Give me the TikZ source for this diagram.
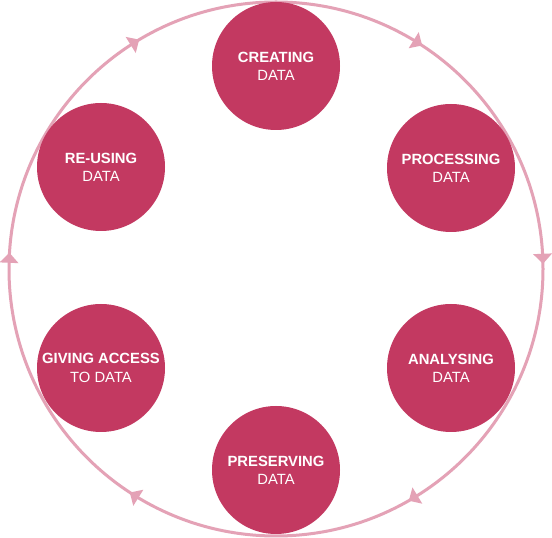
\documentclass[tikz,border=0pt]{standalone}
\usepackage{fontspec}
\setmainfont{Liberation Sans}
\definecolor{bubble}{RGB}{195,57,97}
\definecolor{ringc}{RGB}{228,162,182}
\tikzset{
  bub/.style={circle, fill=bubble, minimum size=128pt, inner sep=0pt, text=white, align=center,
    font=\fontsize{14.8}{18.3}\selectfont},
  ringline/.style={draw=ringc, line width=3pt},
  arrowtri/.style={fill=ringc}
}
\begin{document}
\begin{tikzpicture}[x=1pt,y=1pt]
\useasboundingbox[fill=white] (0,0) rectangle (552,538);
\coordinate (ctr) at (276,269);
\draw[ringline] (ctr) circle (267);
\begin{scope}[shift={(ctr)}]
\foreach \a in {58,2.3,-59,-122,177.7,122}{
  \fill[arrowtri, shift={(\a:267)}, rotate=\a] (-9.5,4.5) -- (9.5,4.5) -- (0,-5.5) -- cycle;
}
\end{scope}
\node[bub] (create) at (276,472) {\textbf{CREATING}\\DATA};
\node[bub] (process) at (451,370) {\textbf{PROCESSING}\\DATA};
\node[bub] (analyse) at (451,170) {\textbf{ANALYSING}\\DATA};
\node[bub] (preserve) at (276,68) {\textbf{PRESERVING}\\DATA};
\node[bub] (access) at (101,170) {\textbf{GIVING ACCESS}\\TO DATA};
\node[bub] (reuse) at (101,371) {\textbf{RE-USING}\\DATA};
\end{tikzpicture}
\end{document}
